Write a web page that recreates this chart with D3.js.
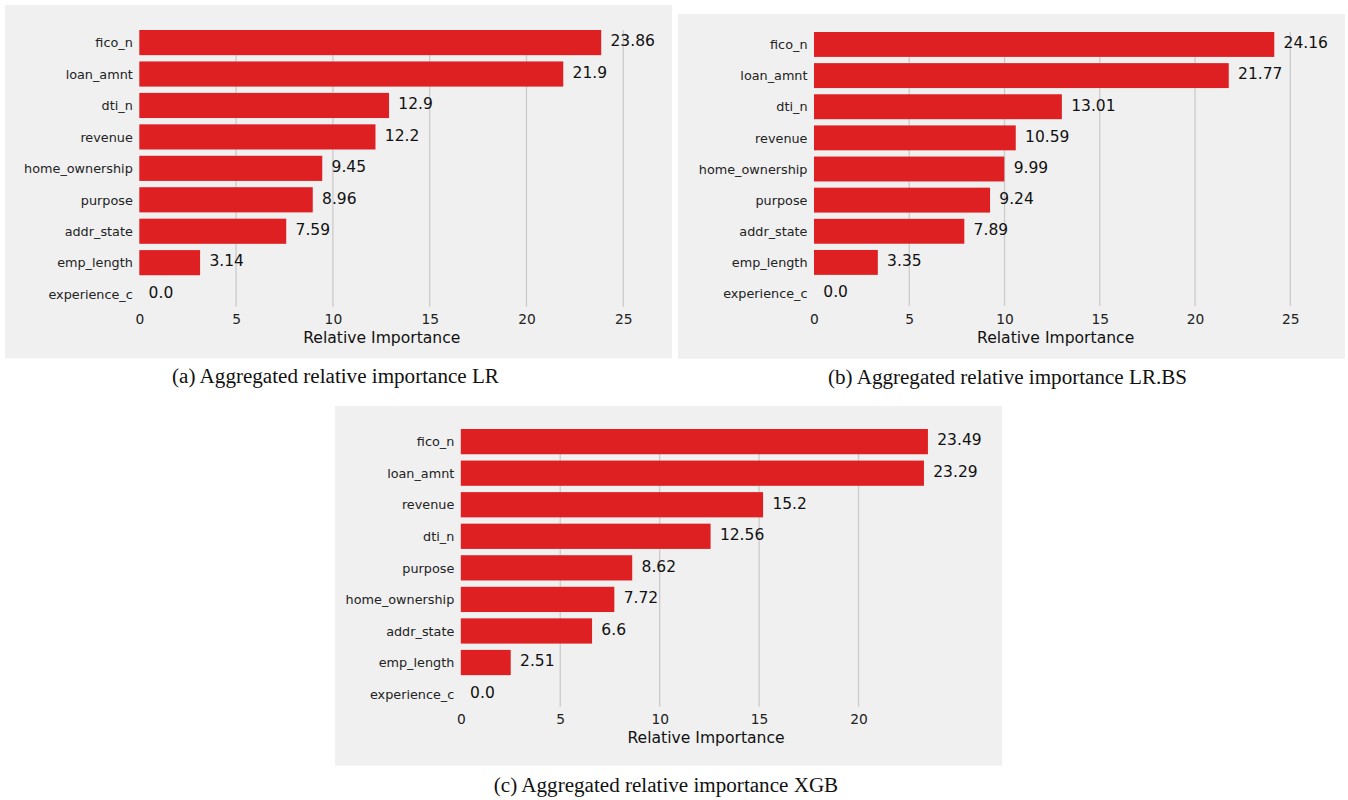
<!DOCTYPE html>
<html>
<head>
<meta charset="utf-8">
<script src="https://cdn.jsdelivr.net/npm/d3@7"></script>
<style>
  html, body { margin: 0; padding: 0; background: #ffffff; }
  svg { display: block; }
</style>
</head>
<body>
<svg id="fig" width="1348" height="800"></svg>
<script>
// Feature importance per model, sorted from most to least important
const categoriesLR = ["fico_n", "loan_amnt", "dti_n", "revenue", "home_ownership", "purpose", "addr_state", "emp_length", "experience_c"];
const valuesLR = [23.86, 21.9, 12.9, 12.2, 9.45, 8.96, 7.59, 3.14, 0.0];

const categoriesLRBS = ["fico_n", "loan_amnt", "dti_n", "revenue", "home_ownership", "purpose", "addr_state", "emp_length", "experience_c"];
const valuesLRBS = [24.16, 21.77, 13.01, 10.59, 9.99, 9.24, 7.89, 3.35, 0.0];

const categoriesXGB = ["fico_n", "loan_amnt", "revenue", "dti_n", "purpose", "home_ownership", "addr_state", "emp_length", "experience_c"];
const valuesXGB = [23.49, 23.29, 15.2, 12.56, 8.62, 7.72, 6.6, 2.51, 0.0];

const axisTitle = "Relative Importance";
const captionLR = "(a) Aggregated relative importance LR";
const captionLRBS = "(b) Aggregated relative importance LR.BS";
const captionXGB = "(c) Aggregated relative importance XGB";

// Panel placement on the page
const panels = [
  { cats: categoriesLR, vals: valuesLR, caption: captionLR,
    box: { x: 5, y: 5, w: 667, h: 353.3 },
    plot: { left: 139.3, top: 30, bottom: 306.7, width: 485 },
    cap: { cx: 335.5, y: 383.3 } },
  { cats: categoriesLRBS, vals: valuesLRBS, caption: captionLRBS,
    box: { x: 678, y: 14, w: 667, h: 344.7 },
    plot: { left: 814, top: 32, bottom: 306, width: 483.3 },
    cap: { cx: 1007.5, y: 384 } },
  { cats: categoriesXGB, vals: valuesXGB, caption: captionXGB,
    box: { x: 335, y: 406, w: 667, h: 359.7 },
    plot: { left: 460.8, top: 429, bottom: 706.7, width: 490.5 },
    cap: { cx: 666, y: 791.7 } }
];

const BAR = "#df2023";
const BG = "#f0f0f0";
const GRID = "#cbcbcb";
const SANS = "'DejaVu Sans', sans-serif";
const SERIF = "'Liberation Serif', 'Times New Roman', serif";

const fmt = v => Number.isInteger(v) ? v.toFixed(1) : String(v);

const svg = d3.select("#fig");

panels.forEach(p => {
  const g = svg.append("g");

  // panel background
  g.append("rect")
    .attr("x", p.box.x).attr("y", p.box.y)
    .attr("width", p.box.w).attr("height", p.box.h)
    .attr("fill", BG);

  const xMax = d3.max(p.vals) * 1.05;
  const x = d3.scaleLinear()
    .domain([0, xMax])
    .range([p.plot.left, p.plot.left + p.plot.width]);

  const y = d3.scaleBand()
    .domain(p.cats)
    .range([p.plot.top, p.plot.bottom])
    .paddingInner(0.2)
    .paddingOuter(0);

  const ticks = x.ticks(6);

  // vertical grid lines
  g.append("g").selectAll("line")
    .data(ticks.filter(t => t > 0))
    .join("line")
    .attr("x1", d => x(d)).attr("x2", d => x(d))
    .attr("y1", p.plot.top).attr("y2", p.plot.bottom)
    .attr("stroke", GRID).attr("stroke-width", 1.3);

  // x axis tick labels (no domain line, no tick marks)
  const xAxis = d3.axisBottom(x).tickValues(ticks).tickSize(0).tickPadding(0)
    .tickFormat(d3.format("d"));
  const ax = g.append("g")
    .attr("transform", `translate(0,${p.plot.bottom})`)
    .call(xAxis);
  ax.select(".domain").remove();
  ax.selectAll("text")
    .attr("y", 17.5).attr("dy", null)
    .attr("font-family", SANS).attr("font-size", 13.8)
    .attr("fill", "#222");

  // category labels
  const yAxis = d3.axisLeft(y).tickSize(0).tickPadding(6.5);
  const ay = g.append("g")
    .attr("transform", `translate(${p.plot.left},0)`)
    .call(yAxis);
  ay.select(".domain").remove();
  ay.selectAll("text")
    .attr("dy", "0.37em")
    .attr("font-family", SANS).attr("font-size", 12.8)
    .attr("fill", "#222");

  const rows = p.cats.map((c, i) => ({ c, v: p.vals[i] }));

  // bars
  g.append("g").selectAll("rect")
    .data(rows)
    .join("rect")
    .attr("x", x(0))
    .attr("y", d => y(d.c))
    .attr("width", d => x(d.v) - x(0))
    .attr("height", y.bandwidth())
    .attr("fill", BAR);

  // value labels
  g.append("g").selectAll("text")
    .data(rows)
    .join("text")
    .attr("x", d => x(d.v) + 9.3)
    .attr("y", d => y(d.c) + y.bandwidth() / 2 + 3.8)
    .attr("font-family", SANS).attr("font-size", 15.5)
    .attr("fill", "#111")
    .text(d => fmt(d.v));

  // axis title
  g.append("text")
    .attr("x", (x.range()[0] + x.range()[1]) / 2)
    .attr("y", p.plot.bottom + 36.5)
    .attr("text-anchor", "middle")
    .attr("font-family", SANS).attr("font-size", 15.6)
    .attr("fill", "#111")
    .text(axisTitle);

  // caption under the panel
  svg.append("text")
    .attr("x", p.cap.cx).attr("y", p.cap.y)
    .attr("text-anchor", "middle")
    .attr("font-family", SERIF).attr("font-size", 21.1)
    .attr("fill", "#111")
    .text(p.caption);
});
</script>
</body>
</html>
